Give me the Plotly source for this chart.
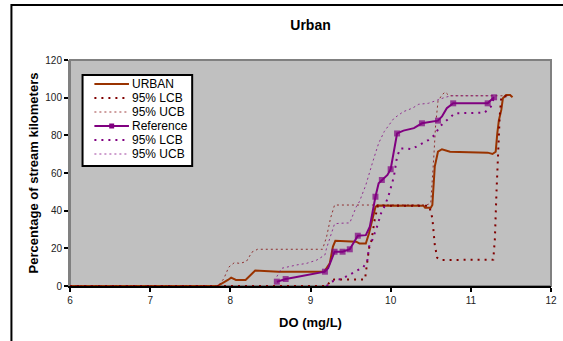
import plotly.graph_objects as go

# Urban CDF and its 95% bounds
urban_x = [6.0, 7.84, 7.97, 8.01, 8.07, 8.19, 8.31, 8.6, 9.17, 9.24, 9.28, 9.31, 9.57, 9.61, 9.69, 9.73,
           9.77, 9.81, 9.83, 10.41, 10.43, 10.50, 10.52, 10.53, 10.55, 10.59, 10.64, 10.74, 11.21, 11.27,
           11.31, 11.33, 11.35, 11.38, 11.40, 11.44, 11.49, 11.52]
urban_y = [0, 0, 3.2, 4.4, 3.2, 3.2, 8.2, 7.6, 7.6, 12, 20.9, 24, 23.5, 22.6, 22.6, 28,
           35, 42, 42.8, 42.6, 41.6, 41.6, 43, 52.7, 63.4, 71.3, 72.6, 71.3, 70.8, 70.1,
           71.3, 81, 88, 93.5, 99.7, 101.4, 101.4, 100.2]

ulcb_x = [6.0, 9.2, 9.26, 9.3, 9.68, 9.71, 9.73, 9.76, 9.8, 9.84, 10.48, 10.52, 10.55, 10.58, 10.62,
          11.28, 11.3, 11.32, 11.34, 11.36, 11.38, 11.45, 11.5]
ulcb_y = [0, 0, 3.2, 3.5, 3.5, 12, 20, 24, 35, 42.6, 42.6, 36, 22, 15, 13.8,
          14, 25, 50, 75, 90, 100.5, 101, 101]

uucb_x = [6.0, 7.85, 7.92, 7.98, 8.05, 8.12, 8.2, 8.27, 8.34, 9.15, 9.2, 9.25, 9.3, 10.45, 10.5,
          10.52, 10.54, 10.56, 10.59, 10.64, 10.68, 10.73, 11.5]
uucb_y = [0, 0, 4, 10, 12.4, 12, 13, 18, 19.5, 19.5, 26, 36, 43, 43, 44,
          55, 70, 85, 98, 101.5, 103, 101, 101]

# Reference CDF and its 95% bounds
ref_x = [8.58, 8.69, 8.81, 8.95, 9.08, 9.18, 9.22, 9.26, 9.30, 9.40, 9.49, 9.59, 9.69, 9.74, 9.77, 9.81,
         9.85, 9.89, 9.96, 10.0, 10.04, 10.08, 10.16, 10.29, 10.39, 10.51, 10.59, 10.64, 10.70, 10.78,
         11.21, 11.29]
ref_y = [2.3, 3.7, 4.6, 5.8, 6.7, 7.6, 9.4, 13.8, 18.2, 18.2, 19.5, 26.7, 27, 31.5, 38.6, 47.4,
         54.5, 56.3, 59, 62, 72, 81, 82.5, 83.8, 86.4, 87.3, 87.8, 90, 94.4, 97,
         97, 100.2]
ref_marked = [0, 1, 5, 8, 9, 10, 11, 15, 17, 19, 21, 24, 26, 29, 30, 31]

rlcb_x = [9.2, 9.26, 9.4, 9.61, 9.66, 9.71, 9.73, 9.77, 9.83, 9.88, 9.92, 9.97, 10.0, 10.04, 10.06,
          10.08, 10.12, 10.18, 10.26, 10.35, 10.47, 10.55, 10.61, 10.70, 10.80, 11.17, 11.25, 11.29]
rlcb_y = [0, 2.3, 4, 8.5, 10, 13.8, 20.9, 24.4, 31.5, 38.6, 42, 47.4, 52, 58, 63.4,
          68.7, 73, 73.1, 72.6, 74.9, 77.5, 80.2, 84.6, 88, 91.7, 92, 95.2, 100.2]

rucb_x = [8.58, 8.64, 8.83, 8.95, 9.08, 9.18, 9.2, 9.26, 9.3, 9.36, 9.49, 9.57, 9.61, 9.69, 9.73,
          9.77, 9.81, 9.85, 9.92, 10.04, 10.16, 10.27, 10.35, 10.47, 10.59, 10.68, 10.76, 11.29]
rucb_y = [5, 9.4, 11.2, 12, 13.8, 16.5, 20, 28, 33, 33.3, 33.5, 42, 44.8, 53.6, 59.8,
          65, 70.5, 75.8, 82, 89, 92.6, 94.4, 96.5, 97, 98.8, 100.2, 101, 101]

x_ticks = [6, 7, 8, 9, 10, 11, 12]
y_ticks = [0, 20, 40, 60, 80, 100, 120]
legend_names = ["URBAN", "95% LCB", "95% UCB", "Reference", "95% LCB", "95% UCB"]

BROWN = "#993300"
DKRED = "#800000"
PURPLE = "#800080"
FONT = "Arial, Liberation Sans, sans-serif"

solid = dict(width=2, dash="solid")
heavy_dot = dict(width=2, dash="2px,5px")
light_dot = dict(width=1, dash="2px,3px")
styles = [(BROWN, solid), (DKRED, heavy_dot), (DKRED, light_dot),
          (PURPLE, solid), (PURPLE, heavy_dot), (PURPLE, light_dot)]

fig = go.Figure()
series = [(urban_x, urban_y), (ulcb_x, ulcb_y), (uucb_x, uucb_y),
          (ref_x, ref_y), (rlcb_x, rlcb_y), (rucb_x, rucb_y)]
for i, ((xs, ys), (col, ln)) in enumerate(zip(series, styles)):
    tr = go.Scatter(x=xs, y=ys, mode="lines", name=legend_names[i], showlegend=False,
                    line=dict(color=col, **ln), opacity=0.75 if ln["width"] == 1 else 1)
    if i == 3:
        sizes = [6 if k in ref_marked else 0 for k in range(len(xs))]
        tr.mode = "lines+markers"
        tr.marker = dict(symbol="square", size=sizes, color=PURPLE, line=dict(width=0))
    fig.add_trace(tr)

# plot area is 487 x 226 px; helpers to place legend pieces in paper units
def px_x(p):
    return (p - 70.3) / 487.0

def px_y(p):
    return (286.0 - p) / 226.0

# legend box
fig.add_shape(type="rect", xref="paper", yref="paper", x0=px_x(83), x1=px_x(194),
              y0=px_y(166), y1=px_y(75), fillcolor="white", line=dict(color="black", width=2))
for i, (name, (col, ln)) in enumerate(zip(legend_names, styles)):
    yy = px_y(84 + 14 * i)
    fig.add_shape(type="line", xref="paper", yref="paper", x0=px_x(95), x1=px_x(130),
                  y0=yy, y1=yy, line=dict(color=col, **ln), opacity=0.75 if ln["width"] == 1 else 1)
    if i == 3:
        fig.add_shape(type="rect", xref="paper", yref="paper", x0=px_x(110), x1=px_x(115),
                      y0=yy - 2.5 / 226, y1=yy + 2.5 / 226, fillcolor=PURPLE, line=dict(width=0))
    fig.add_annotation(text=name, xref="paper", yref="paper", x=px_x(131), y=yy,
                       xanchor="left", yanchor="middle", showarrow=False,
                       font=dict(size=12, family=FONT, color="black"))

# outer chart frame
fig.add_shape(type="rect", xref="paper", yref="paper", x0=px_x(11), x1=px_x(575),
              y0=px_y(360), y1=px_y(5), line=dict(color="black", width=2), layer="below")
# plot-area border
fig.add_shape(type="rect", xref="paper", yref="paper", x0=0, x1=1, y0=0, y1=1,
              line=dict(color="#808080", width=2), layer="below")

fig.update_layout(
    width=563, height=341,
    margin=dict(l=70, r=6, t=60, b=55),
    paper_bgcolor="white", plot_bgcolor="#C0C0C0",
    font=dict(family=FONT, color="black"),
    title=dict(text="<b>Urban</b>", x=0.5, xref="paper", y=0.925, yanchor="middle",
               font=dict(size=14, family=FONT)),
    showlegend=False,
    xaxis=dict(range=[6, 12], tickvals=x_ticks, showgrid=False, zeroline=False,
               showline=True, linecolor="black", linewidth=2,
               ticks="outside", ticklen=4, tickwidth=2, tickcolor="black",
               tickfont=dict(size=10, color="#222"),
               title=dict(text="<b>DO (mg/L)</b>", font=dict(size=13), standoff=13)),
    yaxis=dict(range=[0, 120], tickvals=y_ticks, showgrid=False, zeroline=False,
               showline=True, linecolor="#808080", linewidth=2,
               ticks="outside", ticklen=4, tickwidth=2, tickcolor="black",
               tickfont=dict(size=10, color="#222"),
               title=dict(text="<b>Percentage of stream kilometers</b>", font=dict(size=13), standoff=4)),
)

fig.write_html("out.html", config={"displayModeBar": False},
               post_script="document.body.style.margin='0';")
